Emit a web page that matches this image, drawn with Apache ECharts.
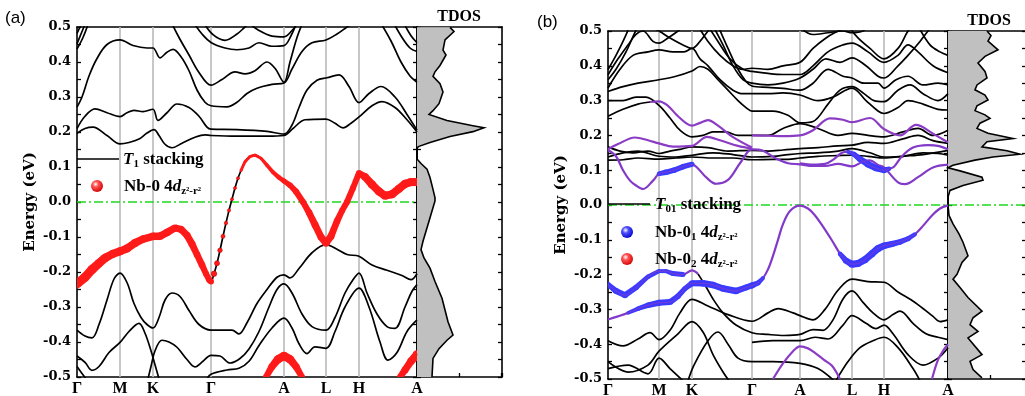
<!DOCTYPE html>
<html><head><meta charset="utf-8">
<script src="https://cdn.jsdelivr.net/npm/echarts@6/dist/echarts.min.js"></script>
<style>html,body{margin:0;padding:0;background:#fff}#c{width:1025px;height:396px}</style>
</head><body><div id="c"></div>
<script>
// ---------- DATA ----------
const kLabels = ['Γ','M','K','Γ','A','L','H','A'];
const kPathA = [0,43,76,134,207,249,282,340];
const kPathB = [0,51,84,144,192,244,276,340];

// panel (a) bands [k, E]
const bandsA = [
 [[0,0.196],[8,0.21],[16,0.214],[30,0.19],[43,0.166],[52,0.17],[62,0.18],[70,0.197],[77,0.207],[82,0.19],[88,0.165],[95,0.155],[105,0.168],[118,0.185],[128,0.192],[134,0.19],[160,0.188],[190,0.188],[207,0.19],[216,0.21],[228,0.235],[249,0.237],[258,0.225],[266,0.212],[274,0.225],[282,0.243],[295,0.275],[305,0.287],[318,0.27],[330,0.235],[340,0.2]],
 [[0,0.21],[8,0.245],[18,0.266],[30,0.255],[43,0.244],[50,0.255],[57,0.262],[66,0.258],[76,0.265],[81,0.233],[90,0.255],[100,0.28],[112,0.27],[122,0.245],[130,0.214],[134,0.208],[160,0.207],[190,0.202],[207,0.194],[215,0.22],[222,0.27],[230,0.32],[240,0.348],[250,0.355],[262,0.363],[272,0.33],[282,0.284],[292,0.31],[304,0.33],[318,0.3],[330,0.25],[340,0.205]],
 [[0,0.271],[5,0.3],[12,0.36],[20,0.41],[30,0.45],[43,0.463],[56,0.447],[70,0.44],[76,0.44],[83,0.412],[90,0.428],[96,0.436],[104,0.415],[112,0.375],[120,0.32],[128,0.285],[134,0.275],[150,0.272],[160,0.285],[170,0.31],[180,0.325],[195,0.336],[207,0.34],[215,0.38],[225,0.43],[235,0.455],[249,0.463],[260,0.48],[270,0.5],[278,0.515]],
 [[94,0.515],[102,0.47],[112,0.42],[122,0.37],[134,0.334],[145,0.35],[158,0.372],[168,0.366],[178,0.375],[190,0.4],[198,0.382],[207,0.342],[213,0.4],[220,0.47],[226,0.515]],
 [[116,0.515],[125,0.48],[134,0.456],[148,0.44],[160,0.435],[172,0.44],[182,0.455],[195,0.445],[207,0.447],[214,0.475],[220,0.515]],
 [[126,0.515],[136,0.478],[148,0.462],[160,0.48],[168,0.5],[174,0.515]],
 [[170,0.515],[182,0.49],[195,0.474],[207,0.472],[215,0.49],[222,0.515]],
 [[0,0.437],[6,0.47],[12,0.515]],
 [[0,0.452],[4,0.48],[9,0.515]],
 [[0,0.482],[3,0.5],[5,0.515]],
 [[303,0.515],[314,0.46],[324,0.4],[333,0.36],[340,0.342]],
 [[316,0.515],[325,0.47],[333,0.44],[340,0.43]],
 [[326,0.515],[334,0.475],[340,0.455]],
 [[0,-0.366],[8,-0.383],[15,-0.388],[22,-0.35],[30,-0.28],[37,-0.22],[43,-0.203],[50,-0.23],[57,-0.29],[64,-0.33],[70,-0.35],[76,-0.36],[82,-0.33],[88,-0.28],[95,-0.26],[103,-0.27],[112,-0.31],[122,-0.35],[134,-0.366],[145,-0.366],[155,-0.366],[162,-0.377],[170,-0.345],[180,-0.29],[190,-0.25],[200,-0.215],[207,-0.208],[213,-0.217],[222,-0.19],[235,-0.145],[249,-0.122],[260,-0.135],[270,-0.15],[282,-0.155],[295,-0.18],[310,-0.195],[325,-0.21],[334,-0.222],[340,-0.205]],
 [[0,-0.44],[8,-0.458],[15,-0.481],[22,-0.47],[32,-0.43],[43,-0.401],[52,-0.37],[62,-0.347],[68,-0.375],[74,-0.425],[78,-0.465],[82,-0.505]],
 [[71,-0.505],[74,-0.47],[78,-0.425],[85,-0.395],[92,-0.4],[100,-0.415],[110,-0.45],[118,-0.471],[126,-0.455],[134,-0.438],[143,-0.44],[153,-0.46],[163,-0.447],[172,-0.42],[182,-0.37],[192,-0.3],[200,-0.25],[207,-0.234],[215,-0.26],[225,-0.32],[235,-0.356],[249,-0.366],[258,-0.33],[268,-0.26],[276,-0.222],[282,-0.203],[290,-0.26],[300,-0.32],[310,-0.356],[318,-0.361],[328,-0.3],[335,-0.255],[340,-0.236]],
 [[130,-0.505],[134,-0.492],[150,-0.48],[162,-0.475],[172,-0.455],[182,-0.41],[195,-0.36],[207,-0.332],[215,-0.36],[222,-0.405],[230,-0.433],[238,-0.414],[249,-0.418],[258,-0.37],[268,-0.3],[282,-0.246],[292,-0.3],[303,-0.4],[311,-0.452],[320,-0.43],[330,-0.37],[340,-0.337]],
 [[0,-0.47],[5,-0.49],[9,-0.505]]
];

// panel (a) Nb-0 projected band [k, E, weight]
const fatA1 = [[0,-0.234,9],[8,-0.215,9],[15,-0.193,9],[22,-0.175,8.5],[28,-0.16,8.5],[36,-0.148,8],[43,-0.141,8],[50,-0.133,8],[58,-0.117,8],[66,-0.106,7.5],[76,-0.098,7.5],[83,-0.098,7.5],[90,-0.087,7.5],[98,-0.074,7],[104,-0.078,7],[110,-0.095,7],[115,-0.12,7],[120,-0.15,6.5],[125,-0.18,6.5],[129,-0.205,6],[132,-0.222,6],[134,-0.227,6]];
const fatA2 = [[137,-0.205,5.5],[140,-0.175,5],[143,-0.138,4.5],[146,-0.098,4],[149,-0.06,3.5],[152,-0.024,3.2],[155,0.008,3],[158,0.04,3],[161,0.068,3]];
const fatA3 = [[164,0.09,3],[168,0.115,3],[173,0.13,3],[178,0.134,3],[184,0.125,3],[190,0.105,3.5],[196,0.085,4],[202,0.07,4.5],[207,0.06,5],[213,0.048,5.5],[219,0.03,6],[226,0.0,6],[232,-0.03,6.5],[238,-0.065,7],[244,-0.1,7],[249,-0.118,7],[254,-0.098,7],[260,-0.055,6.5],[265,-0.025,6],[270,0.0,6],[276,0.04,6],[282,0.083,6],[288,0.072,7.5],[295,0.05,8],[302,0.03,8],[308,0.018,8],[315,0.022,8],[322,0.038,8],[328,0.052,8],[334,0.057,8],[340,0.057,8]];
const fatA4 = [[189,-0.5,6],[195,-0.47,7],[201,-0.449,8],[207,-0.44,8.5],[213,-0.449,8],[219,-0.47,7],[225,-0.5,6]];
const fatA5 = [[323,-0.5,6],[328,-0.48,7],[334,-0.455,7.5],[340,-0.435,8]];

// panel (b) bands [k, E]
const bandsB = [
 [[0,-0.39],[15,-0.405],[30,-0.385],[42,-0.367],[51,-0.387],[62,-0.36],[72,-0.31],[84,-0.271],[100,-0.29],[120,-0.315],[144,-0.334],[160,-0.31],[170,-0.298],[185,-0.31],[192,-0.318],[205,-0.33],[217,-0.3],[230,-0.245],[244,-0.213],[260,-0.22],[276,-0.222],[290,-0.25],[307,-0.28],[325,-0.32],[332,-0.335],[340,-0.33]],
 [[90,-0.198],[97,-0.23],[105,-0.27],[115,-0.31],[128,-0.345],[144,-0.367],[160,-0.372],[176,-0.375],[192,-0.372],[205,-0.358],[215,-0.36],[225,-0.33],[235,-0.27],[244,-0.247],[255,-0.28],[265,-0.31],[276,-0.33],[285,-0.315],[292,-0.305],[305,-0.34],[318,-0.37],[330,-0.38],[340,-0.387]],
 [[0,-0.45],[20,-0.48],[40,-0.46],[51,-0.42],[70,-0.37],[84,-0.335],[95,-0.365],[105,-0.43],[115,-0.48],[121,-0.505]],
 [[80,-0.505],[86,-0.46],[100,-0.39],[110,-0.365],[120,-0.4],[130,-0.44],[144,-0.45],[165,-0.45],[192,-0.455],[210,-0.47],[226,-0.505]],
 [[144,-0.395],[165,-0.39],[192,-0.39],[207,-0.38],[220,-0.385],[235,-0.345],[244,-0.318],[258,-0.34],[268,-0.355],[276,-0.345],[285,-0.37],[300,-0.43],[315,-0.46],[330,-0.44],[340,-0.41]],
 [[0,-0.47],[20,-0.46],[40,-0.485],[51,-0.44],[62,-0.47],[75,-0.505]],
 [[228,-0.505],[240,-0.45],[252,-0.41],[265,-0.39],[276,-0.38],[290,-0.41],[305,-0.47],[312,-0.505]],
 [[0,0.389],[8,0.43],[15,0.47],[22,0.515]],
 [[0,0.374],[10,0.42],[20,0.46],[28,0.49],[35,0.5],[45,0.47],[51,0.465],[60,0.48],[70,0.5],[76,0.515]],
 [[0,0.336],[12,0.39],[25,0.43],[40,0.44],[51,0.446],[65,0.44],[76,0.44],[84,0.45],[92,0.42],[100,0.4],[112,0.36],[125,0.33],[135,0.32],[144,0.32],[160,0.32],[175,0.322],[192,0.316],[210,0.3],[225,0.31],[244,0.336],[258,0.3],[270,0.27],[276,0.263],[290,0.28],[300,0.3],[315,0.29],[330,0.275],[340,0.273]],
 [[0,0.326],[15,0.34],[30,0.35],[51,0.36],[68,0.37],[84,0.385],[92,0.398],[100,0.39],[110,0.36],[120,0.33],[130,0.3],[138,0.28],[144,0.27],[165,0.27],[180,0.258],[192,0.236],[205,0.24],[220,0.29],[232,0.33],[244,0.34],[256,0.32],[266,0.3],[276,0.297],[290,0.33],[302,0.345],[315,0.32],[330,0.3],[340,0.32]],
 [[0,0.3],[15,0.3],[28,0.31],[38,0.31],[51,0.286],[62,0.25],[72,0.215],[84,0.196],[95,0.2],[105,0.21],[118,0.21],[130,0.2],[144,0.2],[160,0.2],[175,0.22],[192,0.234],[210,0.22],[230,0.2],[244,0.206],[260,0.2],[276,0.196],[295,0.21],[310,0.22],[325,0.2],[340,0.215]],
 [[0,0.167],[12,0.155],[25,0.15],[40,0.155],[51,0.148],[62,0.155],[72,0.16],[84,0.167],[100,0.165],[120,0.155],[144,0.157],[160,0.155],[175,0.158],[192,0.162],[210,0.165],[230,0.17],[244,0.172],[260,0.18],[276,0.177],[295,0.19],[310,0.2],[325,0.185],[340,0.177]],
 [[0,0.138],[15,0.15],[30,0.155],[51,0.14],[68,0.138],[84,0.143],[105,0.15],[125,0.145],[144,0.138],[165,0.14],[180,0.145],[192,0.148],[210,0.15],[230,0.155],[244,0.162],[262,0.15],[276,0.138],[295,0.14],[315,0.15],[330,0.148],[340,0.143]],
 [[0,0.129],[15,0.13],[30,0.135],[51,0.132],[68,0.135],[84,0.138],[105,0.135],[125,0.135],[144,0.13],[165,0.131],[180,0.131],[192,0.135],[210,0.14],[230,0.142],[244,0.143],[260,0.14],[276,0.135],[295,0.14],[315,0.145],[340,0.157]],
 [[90,0.515],[100,0.47],[112,0.43],[125,0.4],[135,0.39],[144,0.393],[160,0.39],[175,0.4],[192,0.41],[205,0.45],[218,0.48],[230,0.5],[240,0.515]],
 [[100,0.515],[110,0.47],[122,0.42],[135,0.39],[144,0.384],[160,0.378],[175,0.375],[192,0.375],[205,0.4],[220,0.44],[235,0.46],[244,0.465],[260,0.44],[276,0.41],[290,0.43],[300,0.46],[310,0.44],[325,0.4],[340,0.38]],
 [[105,0.515],[115,0.46],[125,0.4],[135,0.36],[144,0.35],[160,0.345],[175,0.35],[192,0.365],[205,0.39],[218,0.42],[232,0.41],[244,0.423],[258,0.4],[270,0.37],[276,0.365],[290,0.4],[300,0.43],[312,0.47],[320,0.5],[325,0.515]],
 [[110,0.515],[120,0.45],[130,0.39],[138,0.355],[144,0.342],[160,0.338],[175,0.335],[192,0.33],[205,0.35],[220,0.39],[235,0.37],[244,0.365],[256,0.35],[270,0.35],[276,0.336],[288,0.36],[300,0.37],[315,0.345],[330,0.35],[340,0.345]],
 [[240,0.515],[250,0.48],[262,0.45],[276,0.42],[290,0.45],[300,0.5],[305,0.515]],
 [[190,0.515],[205,0.49],[220,0.495],[235,0.5],[244,0.495],[255,0.5],[260,0.515]],
 [[310,0.515],[322,0.46],[332,0.44],[340,0.43]],
 [[40,0.515],[51,0.5],[62,0.48],[75,0.46],[84,0.45],[92,0.47],[100,0.5],[105,0.515]],
 [[0,0.36],[8,0.39],[18,0.44],[26,0.49],[30,0.515]],
 [[0,0.255],[15,0.275],[30,0.29],[42,0.296]]
];

// panel (b) Nb-0(1)/Nb-0(2) projected bands [k, E, weight]
const fatB1 = [[0,-0.329,2.5],[10,-0.32,3],[20,-0.31,3.5],[30,-0.298,4.5],[40,-0.288,5.5],[51,-0.281,6],[62,-0.279,6],[70,-0.262,5.5],[77,-0.24,5],[84,-0.225,6],[95,-0.225,6.5],[105,-0.23,6.5],[115,-0.24,6.5],[128,-0.247,6.5],[138,-0.237,6],[144,-0.231,6],[150,-0.224,5],[155,-0.21,4],[160,-0.185,3],[165,-0.146,2.5],[170,-0.1,2.5],[175,-0.055,2.5],[182,-0.017,2.5],[192,-0.002,2.5],[200,-0.01,2.5],[207,-0.03,2.5],[215,-0.062,2.5],[224,-0.102,3],[232,-0.14,4.5],[238,-0.16,6],[244,-0.17,7],[250,-0.168,7],[257,-0.157,7],[264,-0.14,7],[270,-0.125,7],[276,-0.117,6.5],[284,-0.112,6],[292,-0.106,5.5],[300,-0.097,5],[307,-0.084,4],[315,-0.06,3],[324,-0.03,2.5],[332,-0.01,2.5],[340,-0.001,2.5]];
const fatB2 = [[0,-0.228,5],[8,-0.247,6],[17,-0.259,6],[28,-0.237,5.5],[40,-0.206,4.5],[51,-0.19,4],[58,-0.19,4],[65,-0.197,5],[75,-0.2,5],[84,-0.188,3],[90,-0.198,2.5]];
const fatB3 = [[0,0.158,2.5],[8,0.14,2.5],[15,0.1,2.5],[22,0.07,2.5],[28,0.056,2.5],[35,0.046,2.5],[45,0.07,3],[51,0.09,4.5],[58,0.094,5.5],[66,0.1,5.5],[75,0.11,5.5],[84,0.117,5],[90,0.105,3],[98,0.08,2.5],[108,0.061,2.5],[120,0.072,2.5],[132,0.12,2.5],[144,0.16,2.5],[155,0.156,2.5],[167,0.135,2.5],[180,0.12,2.5],[192,0.117,2.5],[205,0.112,2.5],[217,0.112,2.5],[230,0.118,2.5],[244,0.111,2.5],[255,0.125,2.5],[262,0.128,2.5],[270,0.115,2.5],[276,0.108,2.5],[290,0.065,2.5],[297,0.06,2.5],[310,0.08,2.5],[325,0.108,2.5],[340,0.116,2.5]];
const fatB4 = [[192,0.12,2.5],[205,0.116,2.5],[217,0.118,2.5],[226,0.132,2.5],[234,0.15,3],[240,0.153,4],[246,0.146,5],[252,0.132,6],[260,0.117,6.5],[268,0.106,6.5],[276,0.1,6],[281,0.104,4.5],[286,0.11,3],[294,0.14,2.5],[305,0.165,2.5],[320,0.172,2.5],[330,0.17,2.5],[340,0.16,2.5]];
const fatB5 = [[0,0.16,2],[10,0.175,2],[27,0.194,2],[40,0.186,2],[51,0.177,2],[65,0.168,2],[84,0.17,2],[99,0.196,2],[112,0.186,2],[130,0.17,2],[144,0.162,2]];
const fatB6 = [[42,0.296,2],[51,0.298,2],[60,0.285,2],[70,0.255,2],[84,0.228,2],[92,0.236,2],[100,0.244,2],[110,0.228,2],[125,0.195,2],[144,0.165,2]];
const fatB7 = [[144,0.2,2],[160,0.199,2],[176,0.198,2],[192,0.2,2],[205,0.215,2],[222,0.249,2],[235,0.245,2],[244,0.238,2],[262,0.25,2],[276,0.218,2],[292,0.2,2],[308,0.23,2],[325,0.205,2],[340,0.18,2]];
const fatB8 = [[165,-0.5,2],[175,-0.455,2],[185,-0.42,2],[192,-0.406,2],[200,-0.412,2],[207,-0.425,2],[216,-0.445,2],[224,-0.462,2],[232,-0.5,2]];
const fatB9 = [[324,-0.5,2],[330,-0.445,2],[336,-0.415,2],[340,-0.401,2]];

// TDOS [dos, E]
const tdosA = [[33,0.499],[37,0.487],[28,0.463],[26,0.434],[29,0.42],[23,0.39],[18,0.372],[16,0.359],[23,0.338],[26,0.314],[22,0.281],[16,0.261],[12,0.25],[30,0.233],[56,0.218],[67,0.212],[56,0.201],[33,0.187],[13,0.17],[2,0.159],[0,0.155],[0,0.123],[4,0.11],[10,0.094],[13,0.07],[16,0.036],[18,0.012],[18,0.003],[15,-0.026],[11,-0.064],[6,-0.112],[4,-0.136],[7,-0.16],[13,-0.189],[18,-0.227],[25,-0.275],[31,-0.342],[36,-0.38],[30,-0.395],[22,-0.419],[16,-0.447],[15,-0.5]];
const tdosB = [[39,0.5],[43,0.487],[40,0.471],[50,0.446],[37,0.427],[30,0.408],[37,0.384],[39,0.365],[29,0.345],[27,0.331],[37,0.316],[40,0.302],[29,0.285],[27,0.271],[37,0.259],[42,0.249],[32,0.235],[29,0.22],[40,0.206],[65,0.191],[39,0.182],[34,0.167],[59,0.156],[72,0.146],[45,0.138],[27,0.129],[5,0.114],[0,0.107],[12,0.098],[34,0.08],[35,0.071],[15,0.056],[2,0.042],[0,0.023],[0,0.0],[1,-0.03],[5,-0.054],[11,-0.083],[15,-0.107],[20,-0.146],[14,-0.165],[9,-0.199],[5,-0.213],[12,-0.237],[20,-0.266],[34,-0.305],[25,-0.324],[22,-0.344],[30,-0.363],[20,-0.382],[34,-0.43],[22,-0.449],[25,-0.473],[34,-0.497]];

// ---------- CHART ----------
const SERIF = 'Liberation Serif';
const WIDE = 'DejaVu Serif';
const chart = echarts.init(document.getElementById('c'), null, {renderer:'canvas'});
const fmtE = v => (Math.abs(v) < 1e-9 ? '0.0' : v.toFixed(1));
const tickStyle = {show:true, inside:true, length:4, lineStyle:{color:'#000', width:1.3}};
const minorStyle = {show:true, splitNumber:2, length:4, lineStyle:{color:'#000', width:1.3}};
const lineAx = {show:true, onZero:false, lineStyle:{color:'#000', width:1.6}};

const grids = [
 {left:77, top:27, width:340, height:350},
 {left:417, top:27, width:85, height:350},
 {left:608, top:31, width:340, height:348},
 {left:948, top:31, width:78, height:348}
].map(g => Object.assign({outerBoundsMode:'none', containLabel:false, show:false}, g));

const xAxes = [];
const yAxes = [];
function addBandAxes(gi, kp, nameGap) {
  xAxes.push({gridIndex:gi, type:'value', min:0, max:340, position:'bottom', axisLine:lineAx, axisTick:{show:false}, splitLine:{show:false},
    axisLabel:{customValues:kp, formatter:v => kLabels[kp.indexOf(v)] || '', fontFamily:SERIF, fontWeight:'bold', fontSize:16, color:'#000', margin:4}});
  xAxes.push({gridIndex:gi, type:'value', min:0, max:340, position:'top', axisLine:lineAx, axisTick:{show:false}, axisLabel:{show:false}, splitLine:{show:false}});
  yAxes.push({gridIndex:gi, type:'value', min:-0.5, max:0.5, interval:0.1, position:'left', axisLine:lineAx, axisTick:tickStyle, minorTick:minorStyle, splitLine:{show:false}, minorSplitLine:{show:false},
    axisLabel:{formatter:fmtE, fontFamily:WIDE, fontWeight:'bold', fontSize:13, color:'#000', margin:6},
    name:'Energy (eV)', nameLocation:'middle', nameGap:nameGap, nameRotate:90,
    nameTextStyle:{fontFamily:WIDE, fontWeight:'bold', fontSize:15, color:'#000'}});
  yAxes.push({gridIndex:gi, type:'value', min:-0.5, max:0.5, interval:0.1, position:'right', axisLine:lineAx, axisTick:tickStyle, minorTick:minorStyle, splitLine:{show:false}, axisLabel:{show:false}});
}
function addDosAxes(gi, maxDos) {
  xAxes.push({gridIndex:gi, type:'value', min:0, max:maxDos, interval:42, position:'bottom', axisLine:lineAx, axisTick:{show:true, inside:true, length:4, lineStyle:{color:'#000', width:1.3}}, axisLabel:{show:false}, splitLine:{show:false}});
  xAxes.push({gridIndex:gi, type:'value', min:0, max:maxDos, position:'top', axisLine:lineAx, axisTick:{show:false}, axisLabel:{show:false}, splitLine:{show:false}});
  yAxes.push({gridIndex:gi, type:'value', min:-0.5, max:0.5, interval:0.1, position:'left', axisLine:lineAx, axisTick:tickStyle, minorTick:minorStyle, splitLine:{show:false}, axisLabel:{show:false}});
  yAxes.push({gridIndex:gi, type:'value', min:-0.5, max:0.5, interval:0.1, position:'right', axisLine:lineAx, axisTick:tickStyle, minorTick:minorStyle, splitLine:{show:false}, axisLabel:{show:false}});
}
addBandAxes(0, kPathA, 39);  // x 0,1  y 0,1
addDosAxes(1, 85);           // x 2,3  y 2,3
addBandAxes(2, kPathB, 39);  // x 4,5  y 4,5
addDosAxes(3, 78);           // x 6,7  y 6,7

const series = [];
const GREEN = '#1fd81f';
function refLines(xi, yi, kp, withVert) {
  series.push({type:'line', xAxisIndex:xi, yAxisIndex:yi, data:[], silent:true, animation:false, symbol:'none',
    markLine:{silent:true, symbol:'none', animation:false, z:1, label:{show:false},
      data:[].concat(withVert ? kp.slice(1,-1).map(k => ({xAxis:k, lineStyle:{color:'#b9b9b9', width:1.6, type:'solid'}})) : [],
                     [{yAxis:0, lineStyle:{color:GREEN, width:1.6, type:[9,3,2,3]}}])}});
}
refLines(0, 0, kPathA, true);
refLines(4, 4, kPathB, true);
refLines(6, 6, kPathB, false);

function band(pts, xi, yi, color, width, z) {
  series.push({type:'line', xAxisIndex:xi, yAxisIndex:yi, data:pts.map(p => [p[0], p[1]]), smooth:0.35, symbol:'none',
    lineStyle:{color:color, width:width}, z:z, silent:true, animation:false, clip:true});
}
bandsA.forEach(b => band(b, 0, 0, '#000', 1.7, 3));
band(fatA1.concat(fatA2, fatA3), 0, 0, '#000', 1.7, 3);
band(fatA4, 0, 0, '#000', 1.7, 3);
band(fatA5, 0, 0, '#000', 1.7, 3);
bandsB.forEach(b => band(b, 4, 4, '#000', 1.7, 3));

function ribbon(pts, xi, yi, fill, minW, dots, z) {
  series.push({type:'custom', xAxisIndex:xi, yAxisIndex:yi, data:pts, z:z, silent:true, animation:false, clip:true,
    encode:{x:0, y:1},
    renderItem:(params, api) => {
      const i = params.dataIndex;
      const cur = pts[i];
      const p0 = api.coord([cur[0], cur[1]]);
      const children = [];
      if (i < pts.length - 1) {
        const nx = pts[i+1];
        if (cur[2] >= minW && nx[2] >= minW) {
          const p1 = api.coord([nx[0], nx[1]]);
          const dx = p1[0]-p0[0], dy = p1[1]-p0[1], L = Math.hypot(dx, dy) || 1;
          const ux = -dy/L, uy = dx/L, r0 = cur[2]/2, r1 = nx[2]/2;
          children.push({type:'polygon', shape:{points:[[p0[0]+ux*r0,p0[1]+uy*r0],[p1[0]+ux*r1,p1[1]+uy*r1],[p1[0]-ux*r1,p1[1]-uy*r1],[p0[0]-ux*r0,p0[1]-uy*r0]]}, style:{fill:fill}});
        }
      }
      if (dots || cur[2] >= minW) {
        children.push({type:'circle', shape:{cx:p0[0], cy:p0[1], r:cur[2]/2}, style:{fill:fill, stroke: dots ? '#c80000' : null, lineWidth:0.6}});
      }
      const cs = params.coordSys;
      return {type:'group', children:children, clipPath:{type:'rect', shape:{x:cs.x, y:cs.y, width:cs.width, height:cs.height}}};
    }});
}
const RED = '#ff1a1a';
ribbon(fatA1, 0, 0, RED, 3.5, false, 4);
ribbon(fatA2, 0, 0, RED, 99, true, 4);
ribbon(fatA3, 0, 0, RED, 2.5, false, 4);
ribbon(fatA4, 0, 0, RED, 3.5, false, 4);
ribbon(fatA5, 0, 0, RED, 3.5, false, 4);

const PURPLE = '#8b3cc4';
const BLUE = '#3b3bff';
[fatB1, fatB2, fatB3, fatB4, fatB5, fatB6, fatB7, fatB8, fatB9].forEach(f => {
  band(f, 4, 4, PURPLE, 2.2, 3);
  ribbon(f, 4, 4, BLUE, 3.5, false, 4);
});
[fatB1, fatB2, fatB3, fatB4].forEach(f => band(f, 4, 4, '#7a3ad0', 1.0, 5));

function dos(pts, xi, yi) {
  series.push({type:'custom', xAxisIndex:xi, yAxisIndex:yi, data:[[0,0]], z:2, silent:true, animation:false,
    renderItem:(params, api) => {
      const cur = pts.map(p => api.coord([p[0], p[1]]));
      const poly = [api.coord([0, pts[0][1]])].concat(cur, [api.coord([0, pts[pts.length-1][1]])]);
      return {type:'group', children:[
        {type:'polygon', shape:{points:poly}, style:{fill:'#c0c0c0'}},
        {type:'polyline', shape:{points:cur}, style:{stroke:'#000', lineWidth:1.6, fill:null}}
      ]};
    }});
}
dos(tdosA, 2, 2);
dos(tdosB, 6, 6);

const rich = {
  n:{fontFamily:SERIF, fontWeight:'bold', fontSize:17, lineHeight:20, fill:'#000', color:'#000'},
  i:{fontFamily:SERIF, fontWeight:'bold', fontStyle:'italic', fontSize:17, lineHeight:20, fill:'#000', color:'#000'},
  s:{fontFamily:SERIF, fontWeight:'bold', fontSize:11, lineHeight:12, padding:[8,0,0,0], fill:'#000', color:'#000'}
};
function ball(cx, cy, c0, c1, c2) {
  return {type:'circle', shape:{cx:cx, cy:cy, r:6}, z:10,
    style:{fill:{type:'radial', x:0.38, y:0.35, r:0.7, colorStops:[{offset:0, color:c0},{offset:0.35, color:c1},{offset:1, color:c2}]}}};
}
function txt(x, y, text) {
  return {type:'text', x:x, y:y, z:10, style:{text:text, rich:rich, verticalAlign:'middle', align:'left', fill:'#000'}};
}
const graphic = [
  {type:'text', x:5, y:18, z:10, style:{text:'(a)', font:'17px "Liberation Sans"', fill:'#000', verticalAlign:'middle'}},
  {type:'text', x:537, y:22, z:10, style:{text:'(b)', font:'17px "Liberation Sans"', fill:'#000', verticalAlign:'middle'}},
  {type:'text', x:459, y:17, z:10, style:{text:'TDOS', font:'bold 16px "Liberation Serif"', fill:'#000', align:'center', verticalAlign:'middle'}},
  {type:'text', x:989, y:21, z:10, style:{text:'TDOS', font:'bold 16px "Liberation Serif"', fill:'#000', align:'center', verticalAlign:'middle'}},
  {type:'line', z:10, shape:{x1:77, y1:159, x2:119, y2:159}, style:{stroke:'#000', lineWidth:1.6}},
  txt(123, 160, '{i|T}{s|1}{n| stacking}'),
  ball(97, 186, '#ffffff', '#ff5050', '#d00000'),
  txt(124, 187, '{n|Nb-0 4}{i|d}{s|z²-r²}'),
  {type:'line', z:10, shape:{x1:608, y1:204, x2:650, y2:204}, style:{stroke:'#000', lineWidth:1.6}},
  txt(655, 205, '{i|T}{s|01}{n| stacking}'),
  ball(627, 232, '#ffffff', '#5050ff', '#0000c8'),
  txt(655, 233, '{n|Nb-0}{s|1}{n| 4}{i|d}{s|z²-r²}'),
  ball(627, 259, '#ffffff', '#ff5050', '#d00000'),
  txt(655, 260, '{n|Nb-0}{s|2}{n| 4}{i|d}{s|z²-r²}')
];

chart.setOption({animation:false, backgroundColor:'#fff', grid:grids, xAxis:xAxes, yAxis:yAxes, series:series, graphic:graphic});
</script></body></html>
